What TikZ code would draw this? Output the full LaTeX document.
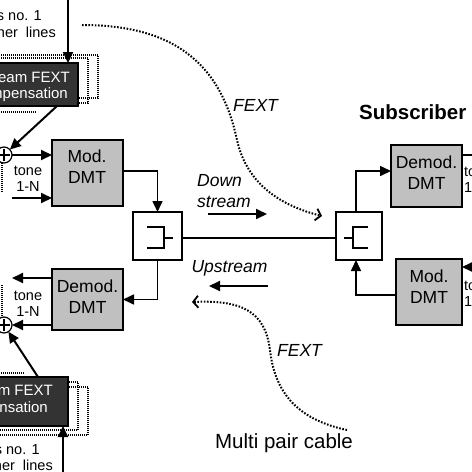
\documentclass[tikz,border=0pt]{standalone}
\usepackage{fontspec}
\setmainfont{Liberation Sans}
\usetikzlibrary{arrows.meta,calc}
\definecolor{boxgray}{HTML}{C0C0C0}
\definecolor{darkbox}{HTML}{333333}
\begin{document}
\begin{tikzpicture}[x=1pt,y=-1pt,
  gbox/.style={draw, line width=1.3pt, fill=boxgray, inner sep=0pt, outer sep=0pt},
  hyb/.style={draw, line width=1.3pt, fill=white, inner sep=0pt, outer sep=0pt},
  fbox/.style={draw=black, line width=1.3pt, fill=darkbox, inner sep=0pt, outer sep=0pt},
  sumc/.style={circle, draw, line width=1.2pt, fill=white, minimum size=16pt, inner sep=0pt, outer sep=0pt},
  btxt/.style={font=\fontsize{17.5}{21}\selectfont, align=center, inner sep=0pt},
  wtxt/.style={font=\fontsize{15}{18}\selectfont, text=white, inner sep=0pt},
  stxt/.style={font=\fontsize{14.5}{16}\selectfont, inner sep=0pt},
  itxt/.style={font=\fontsize{17.5}{21}\selectfont\itshape, inner sep=0pt},
  arr/.style={line width=2pt, -{Triangle[length=11pt,width=10pt]}},
  thinarr/.style={line width=1.6pt, -{Triangle[length=11pt,width=10pt]}},
  fline/.style={line width=1.5pt, dash pattern=on 1pt off 1pt},
  fext/.style={line width=2pt, dash pattern=on 1.6pt off 1.6pt, -{Straight Barb[length=5pt,width=12pt,line width=1.8pt]}},
  sym/.style={line width=1.2pt}]
\useasboundingbox (0,0) rectangle (472,472);
\clip (0,0) rectangle (472,472);

% dotted frames behind FEXT boxes
\draw[fline] (-100,55) rectangle (98,98);
\draw[fline] (-100,58) rectangle (88,103);
\draw[fline] (-5,112) -- (37,112);
\draw[fline] (-100,382) rectangle (78,430);
\draw[fline] (-100,387) rectangle (88,435);
\draw[fline] (-5,373) -- (25,373);
\draw[fline] (2,163) -- (2,193);
\draw[fline] (2,285) -- (2,317);

% FEXT compensation boxes
\node[fbox, minimum width=148pt, minimum height=43pt] (fc1) at (4,84.5) {};
\node[wtxt, anchor=east] (fc1a) at (70,77) {Downstream FEXT};
\node[wtxt, anchor=east] (fc1b) at (68,95) {compensation};
\node[fbox, minimum width=148pt, minimum height=49pt] (fc2) at (-6,401.5) {};
\node[wtxt, anchor=east] (fc2a) at (53,392) {Upstream FEXT};
\node[wtxt, anchor=east] (fc2b) at (48,409) {compensation};

% input labels (cropped at the edge, as in the source)
\node[stxt, anchor=east] (lt1) at (42,16) {Tones no. 1};
\node[stxt, anchor=east] (lt2) at (56,32) {from other\ \ lines};
\node[stxt, anchor=east] (lb1) at (40,450) {Tones no. 1};
\node[stxt, anchor=east] (lb2) at (53,465) {to other\ \ lines};

% summing points
\node[sumc] (sum1) at (4,155) {};
\node[sumc] (sum2) at (4,325) {};
\draw[line width=1.2pt] ([xshift=2pt]sum1.west) -- ([xshift=-2pt]sum1.east)
  ([yshift=-2pt]sum1.north) -- ([yshift=2pt]sum1.south);
\draw[line width=1.2pt] ([xshift=2pt]sum2.west) -- ([xshift=-2pt]sum2.east)
  ([yshift=-2pt]sum2.north) -- ([yshift=2pt]sum2.south);

% modem boxes
\node[gbox, minimum width=71pt, minimum height=66pt] (mod1) at (87.5,173) {};
\node[btxt] (mod1t) at (87,166.5) {Mod.\\DMT};
\node[gbox, minimum width=71pt, minimum height=61pt] (dem1) at (87.5,299.5) {};
\node[btxt] (dem1t) at (87.5,296.5) {Demod.\\DMT};
\node[gbox, minimum width=71pt, minimum height=62pt] (dem2) at (426.5,176) {};
\node[btxt] (dem2t) at (426.5,172.5) {Demod.\\DMT};
\node[gbox, minimum width=66pt, minimum height=66pt] (mod2) at (429,292) {};
\node[btxt] (mod2t) at (429,287) {Mod.\\DMT};

% hybrids
\node[hyb, minimum width=49pt, minimum height=48pt] (hybL) at (157.5,236) {};
\node[hyb, minimum width=46pt, minimum height=48pt] (hybR) at (359,236) {};
\draw[sym] ($(hybL)+(-10.5,-9)$) -- ++(17,0) -- ++(0,21) -- ++(-17,0);
\draw[sym] ($(hybL)+(6.5,2)$) -- ++(9,0);
\draw[sym] ($(hybR)+(9,-9)$) -- ++(-15,0) -- ++(0,21) -- ++(15,0);
\draw[sym] ($(hybR)+(-6,2)$) -- ++(-9,0);

% cable
\draw[line width=1.3pt] ([yshift=-2pt]hybL.east) -- ([yshift=-2pt]hybR.west);

% tone labels
\node[stxt, align=center] (tn1) at (28,179) {tone\\1-N};
\node[stxt, align=center] (tn2) at (28,304) {tone\\1-N};
\node[stxt, anchor=west, align=left] (tn3) at (464,180) {tone\\1-N};
\node[stxt, anchor=west, align=left] (tn4) at (464,293.5) {tone\\1-N};

% coordinates for free ends
\coordinate (topin) at (68,-2);
\coordinate (botin) at (63,474);
\coordinate (tin1) at (12,198);
\coordinate (tout1) at (12,278);
\coordinate (rout) at (490,155);
\coordinate (rin) at (480,267);

% connectors
\draw[arr] (topin) -- (topin |- fc1.north);
\draw[arr] ([xshift=-21pt]fc1.south east) -- (sum1);
\draw[arr] (sum1) -- (sum1 -| mod1.west);
\draw[arr] (tin1) -- (tin1 -| mod1.west);
\draw[thinarr] ([yshift=2pt]mod1.east) -| (hybL.north);
\draw[thinarr] (hybL.south) |- (dem1.east);
\draw[arr] (tout1 -| dem1.west) -- (tout1);
\draw[arr] (sum2 -| dem1.west) -- (sum2);
\draw[arr] ([xshift=-30pt]fc2.north east) -- (sum2);
\draw[arr] (botin) -- (botin |- fc2.south);
\draw[thinarr] ([xshift=-3pt]hybR.north) |- ([yshift=5pt]dem2.west);
\draw[thinarr] ([yshift=-3pt]mod2.west) -| ([xshift=-3pt]hybR.south);
\draw[arr] (rout -| dem2.east) -- (rout);
\draw[arr] (rin) -- (rin -| mod2.east);

% direction labels and arrows
\node[itxt, anchor=west, align=left] (down) at (197,191.5) {Down\\stream};
\node[itxt] (up) at (229.5,268) {Upstream};
\coordinate (da1) at (208,214);
\coordinate (da2) at (267,214);
\draw[arr] (da1) -- (da2);
\coordinate (ua1) at (268,286);
\coordinate (ua2) at (209,286);
\draw[arr] (ua1) -- (ua2);

% FEXT couplings
\coordinate (f1s) at (82,25);
\coordinate (f1m) at (237,140);
\coordinate (f1e) at (322,216);
\draw[fext] (f1s) .. controls (170,25) and (220,60) .. (f1m)
  .. controls (247,185) and (282,206) .. (f1e);
\node[itxt] (fx1) at (255.5,105) {FEXT};
\coordinate (f2s) at (347,430);
\coordinate (f2m) at (270,350);
\coordinate (f2e) at (192,302);
\draw[fext] (f2s) .. controls (300,420) and (275,395) .. (f2m)
  .. controls (265,310) and (240,300) .. (f2e);
\node[itxt] (fx2) at (299.5,350) {FEXT};

% titles
\node[font=\fontsize{20.5}{24}\selectfont, inner sep=0pt] (cable) at (284,443) {Multi pair cable};
\node[font=\fontsize{20.5}{24}\selectfont\bfseries, anchor=west, inner sep=0pt] (subs) at (359,112) {Subscriber};
\end{tikzpicture}
\end{document}
